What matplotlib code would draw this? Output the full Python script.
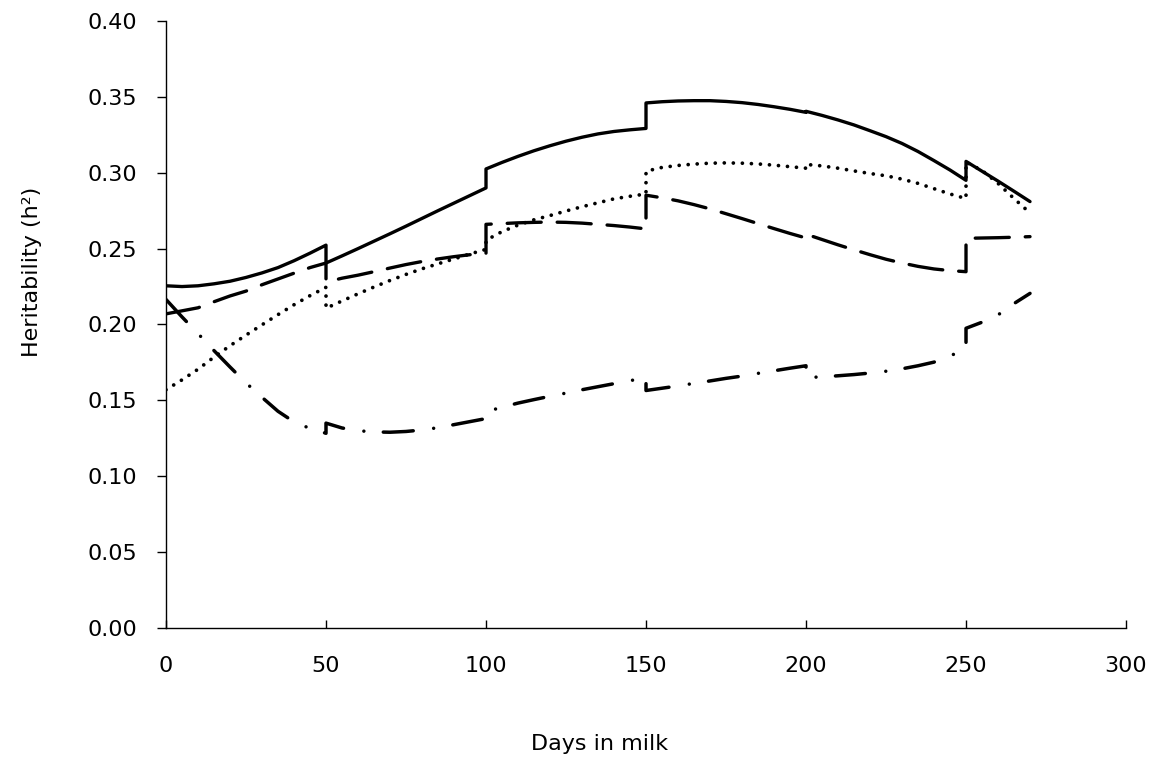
import numpy as np
import matplotlib
matplotlib.use("Agg")
import matplotlib.pyplot as plt
from matplotlib.ticker import FormatStrFormatter

# days in milk, one list per test-day segment (values jump at segment edges)
seg_days = [
    [0, 5, 10, 15, 20, 25, 30, 35, 40, 45, 50],
    [50, 55, 60, 65, 70, 75, 80, 85, 90, 95, 100],
    [100, 105, 110, 115, 120, 125, 130, 135, 140, 145, 150],
    [150, 155, 160, 165, 170, 175, 180, 185, 190, 195, 200],
    [200, 205, 210, 215, 220, 225, 230, 235, 240, 245, 250],
    [250, 255, 260, 265, 270],
]

h2_solid = [
    [0.2255, 0.2250, 0.2255, 0.2268, 0.2285, 0.2310, 0.2340, 0.2375, 0.2420, 0.2470, 0.2523],
    [0.2405, 0.2452, 0.2500, 0.2549, 0.2598, 0.2648, 0.2699, 0.2750, 0.2800, 0.2850, 0.2900],
    [0.3025, 0.3068, 0.3108, 0.3145, 0.3178, 0.3208, 0.3234, 0.3256, 0.3272, 0.3283, 0.3292],
    [0.3460, 0.3468, 0.3473, 0.3475, 0.3475, 0.3470, 0.3462, 0.3450, 0.3435, 0.3418, 0.3398],
    [0.3405, 0.3378, 0.3348, 0.3315, 0.3277, 0.3238, 0.3193, 0.3140, 0.3080, 0.3018, 0.2950],
    [0.3075, 0.3010, 0.2945, 0.2878, 0.2810],
]

h2_dotted = [
    [0.1570, 0.1635, 0.1705, 0.1785, 0.1860, 0.1930, 0.1998, 0.2065, 0.2130, 0.2190, 0.2245],
    [0.2107, 0.2155, 0.2202, 0.2247, 0.2290, 0.2330, 0.2367, 0.2400, 0.2432, 0.2465, 0.2495],
    [0.2555, 0.2612, 0.2655, 0.2690, 0.2718, 0.2748, 0.2776, 0.2802, 0.2828, 0.2845, 0.2860],
    [0.3010, 0.3035, 0.3048, 0.3057, 0.3063, 0.3065, 0.3063, 0.3058, 0.3050, 0.3040, 0.3030],
    [0.3055, 0.3045, 0.3030, 0.3012, 0.2995, 0.2980, 0.2958, 0.2930, 0.2895, 0.2860, 0.2830],
    [0.3070, 0.3015, 0.2930, 0.2830, 0.2735],
]

h2_dashed = [
    [0.2070, 0.2090, 0.2110, 0.2150, 0.2188, 0.2220, 0.2262, 0.2300, 0.2338, 0.2375, 0.2405],
    [0.2280, 0.2305, 0.2325, 0.2348, 0.2372, 0.2395, 0.2415, 0.2432, 0.2447, 0.2460, 0.2470],
    [0.2660, 0.2665, 0.2670, 0.2673, 0.2675, 0.2673, 0.2668, 0.2660, 0.2652, 0.2642, 0.2630],
    [0.2852, 0.2835, 0.2815, 0.2790, 0.2762, 0.2730, 0.2698, 0.2665, 0.2632, 0.2600, 0.2570],
    [0.2595, 0.2560, 0.2525, 0.2492, 0.2460, 0.2430, 0.2405, 0.2383, 0.2366, 0.2355, 0.2348],
    [0.2568, 0.2570, 0.2572, 0.2575, 0.2579],
]

h2_dashdot = [
    [0.2165, 0.2050, 0.1940, 0.1828, 0.1720, 0.1615, 0.1520, 0.1428, 0.1358, 0.1315, 0.1283],
    [0.1350, 0.1318, 0.1300, 0.1292, 0.1290, 0.1295, 0.1305, 0.1320, 0.1340, 0.1360, 0.1380],
    [0.1425, 0.1455, 0.1482, 0.1505, 0.1527, 0.1548, 0.1570, 0.1590, 0.1610, 0.1630, 0.1648],
    [0.1565, 0.1580, 0.1595, 0.1612, 0.1628, 0.1645, 0.1660, 0.1678, 0.1695, 0.1712, 0.1728],
    [0.1650, 0.1655, 0.1662, 0.1670, 0.1680, 0.1692, 0.1708, 0.1728, 0.1752, 0.1790, 0.1850],
    [0.1975, 0.2015, 0.2063, 0.2138, 0.2205],
]

x_ticks = [0, 50, 100, 150, 200, 250, 300]
y_ticks = [0.00, 0.05, 0.10, 0.15, 0.20, 0.25, 0.30, 0.35, 0.40]

plt.rcParams["font.family"] = ["DejaVu Sans"]
plt.rcParams["lines.scale_dashes"] = False


def flat(segs):
    return np.concatenate([np.asarray(s, dtype=float) for s in segs])


days = flat(seg_days)

fig = plt.figure(figsize=(11.6, 7.61), dpi=100)
ax = fig.add_axes([0.1431, 0.1748, 0.8276, 0.7976])

ax.plot(days, flat(h2_solid), color="black", lw=2.4, solid_capstyle="round",
        solid_joinstyle="round")
ax.plot(days, flat(h2_dotted), color="black", lw=2.7, linestyle=(0, (0.01, 6.5)),
        dash_capstyle="round")
ax.plot(days, flat(h2_dashed), color="black", lw=2.4, linestyle=(0, (24.5, 11.5)),
        dash_capstyle="round", dash_joinstyle="round")
ax.plot(days, flat(h2_dashdot), color="black", lw=2.5,
        linestyle=(0, (21.6, 14.8, 0.01, 14.0)), dash_capstyle="round",
        dash_joinstyle="round")

ax.set_xlim(0, 300)
ax.set_ylim(0, 0.40)
ax.set_xticks(x_ticks)
ax.set_yticks(y_ticks)
ax.yaxis.set_major_formatter(FormatStrFormatter("%.2f"))

for side in ["top", "right"]:
    ax.spines[side].set_visible(False)
for side in ["left", "bottom"]:
    ax.spines[side].set_linewidth(1.0)

ax.tick_params(axis="y", direction="out", length=6.5, width=1.0, pad=14, labelsize=16)
ax.tick_params(axis="x", direction="in", length=6, width=1.0, pad=20, labelsize=16)

ax.set_xlabel("Days in milk", fontsize=16)
ax.xaxis.set_label_coords(0.452, -0.175)
ax.set_ylabel("Heritability (h²)", fontsize=16)
ax.yaxis.set_label_coords(-0.129, 0.586)

fig.savefig("out.png", dpi=100)
